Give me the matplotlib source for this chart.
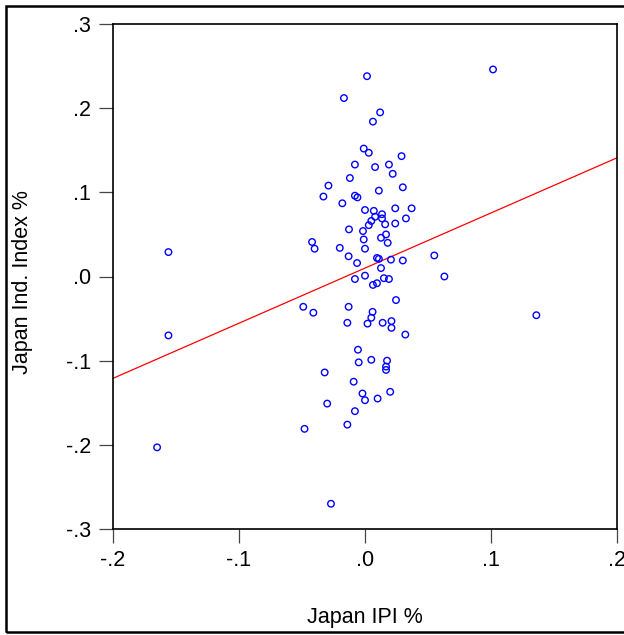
import numpy as np
import matplotlib
matplotlib.use("Agg")
import matplotlib.pyplot as plt
import matplotlib.ticker as mticker
from matplotlib.patches import Rectangle

plt.rcParams["font.family"] = ["Liberation Sans", "DejaVu Sans"]

# Japan IPI % (x) vs Japan Ind. Index % (y)
ipi = [0.0016, 0.1016, -0.0167, 0.012, 0.0063, -0.001, 0.003, 0.029, -0.008, 0.008,
       0.019, 0.022, -0.012, -0.029, 0.030, 0.011, -0.033, -0.008, -0.006, -0.018,
       0.000, 0.007, 0.0135, 0.0135, 0.024, 0.037, 0.005, 0.003, 0.008, 0.016,
       0.024, 0.0325, -0.0127, -0.0016, 0.0167, 0.0127, -0.001, 0.018, -0.042, -0.040,
       -0.020, 0.000, -0.013, -0.0063, 0.0095, 0.011, 0.0206, 0.030, 0.055, 0.0127,
       -0.008, 0.000, 0.015, 0.019, 0.0063, 0.0095, 0.0246, -0.049, -0.013, -0.041,
       0.006, 0.005, -0.014, 0.002, 0.014, 0.021, 0.021, 0.032, -0.0056, -0.005,
       0.005, 0.0175, 0.0167, 0.0167, -0.032, -0.009, -0.002, 0.000, 0.010, 0.020,
       -0.030, -0.008, -0.014, -0.048, -0.156, -0.156, -0.165, -0.027, 0.136, 0.063]
ind_index = [0.238, 0.246, 0.212, 0.195, 0.184, 0.152, 0.147, 0.143, 0.133, 0.130,
             0.133, 0.122, 0.117, 0.108, 0.106, 0.102, 0.095, 0.096, 0.094, 0.087,
             0.079, 0.078, 0.074, 0.069, 0.081, 0.081, 0.066, 0.061, 0.071, 0.062,
             0.063, 0.069, 0.056, 0.054, 0.050, 0.046, 0.044, 0.040, 0.041, 0.033,
             0.034, 0.033, 0.024, 0.016, 0.022, 0.021, 0.020, 0.019, 0.025, 0.010,
             -0.003, 0.001, -0.002, -0.003, -0.010, -0.008, -0.028, -0.036, -0.036, -0.043,
             -0.042, -0.049, -0.055, -0.056, -0.055, -0.053, -0.061, -0.069, -0.087, -0.102,
             -0.099, -0.100, -0.107, -0.111, -0.114, -0.125, -0.139, -0.147, -0.145, -0.137,
             -0.151, -0.160, -0.176, -0.181, 0.029, -0.070, -0.203, -0.270, -0.046, 0.000]

# fitted line
slope = 0.655
intercept = 0.010

x_ticks = [-0.2, -0.1, 0.0, 0.1, 0.2]
y_ticks = [-0.3, -0.2, -0.1, 0.0, 0.1, 0.2, 0.3]


def short_fmt(v, pos):
    s = f"{v:.1f}"
    if s == "-0.0":
        s = "0.0"
    return s.replace("0.", ".", 1)


fig = plt.figure(figsize=(6.24, 6.35), dpi=100)
fig.patches.append(Rectangle((6 / 624, 3 / 635), 640 / 624, 626 / 635, transform=fig.transFigure,
                             fill=False, edgecolor="black", linewidth=1.8))
ax = fig.add_axes([113 / 624, 1 - 529 / 635, 504 / 624, 505 / 635])

ax.scatter(ipi, ind_index, s=22, facecolors="none", edgecolors="blue", linewidths=1.0, zorder=3)
lx = np.array([-0.2, 0.2])
ax.plot(lx, intercept + slope * lx, color="red", linewidth=0.9, zorder=2)

ax.set_xlim(-0.2, 0.2)
ax.set_ylim(-0.3, 0.3)
ax.set_xticks(x_ticks)
ax.set_yticks(y_ticks)
ax.xaxis.set_major_formatter(mticker.FuncFormatter(short_fmt))
ax.yaxis.set_major_formatter(mticker.FuncFormatter(short_fmt))
ax.tick_params(direction="out", length=10, width=0.9, color="#444444", labelsize=15.5, pad=5)
ax.tick_params(axis="y", pad=6)
for sp in ax.spines.values():
    sp.set_linewidth(1.2)

fig.text(365 / 624, 1 - 617 / 635, "Japan IPI %", fontsize=15.5, ha="center", va="center")
fig.text(23 / 624, 1 - 282 / 635, "Japan Ind. Index %", fontsize=15.5, ha="center",
         va="center", rotation=90)

fig.savefig("out.png", dpi=100)
